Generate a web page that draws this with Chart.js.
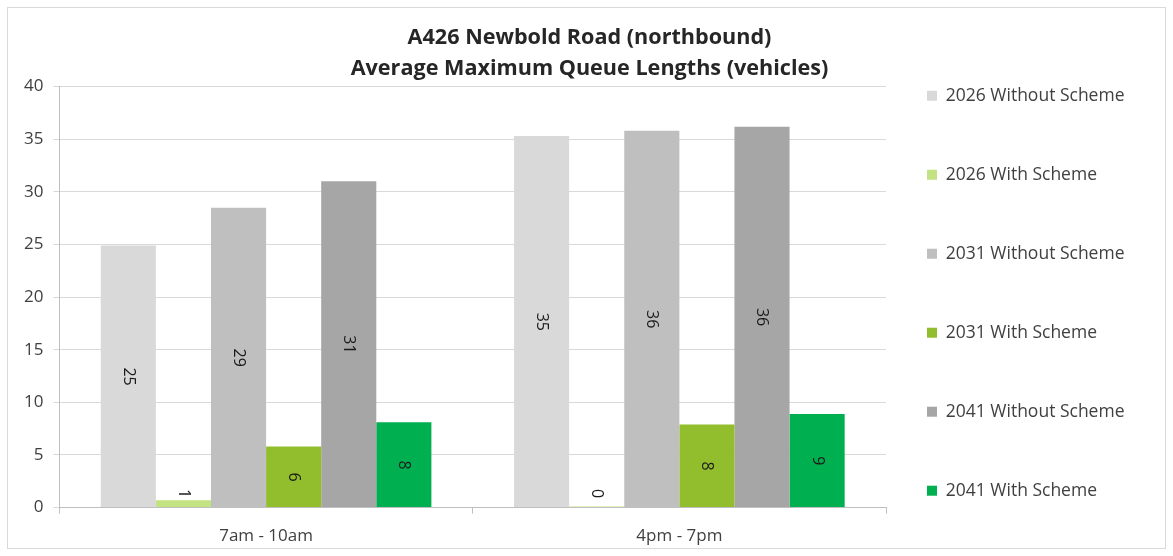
<!DOCTYPE html>
<html>
<head>
<meta charset="utf-8">
<script src="https://cdn.jsdelivr.net/npm/chart.js@4.4.1/dist/chart.umd.min.js"></script>
<style>
  html, body { margin: 0; padding: 0; background: #fff; }
  #frame { position: absolute; left: 7px; top: 7px; width: 1157px; height: 540px; border: 1px solid #d9d9d9; }
</style>
</head>
<body>
<div id="frame"><canvas id="chartQueue" width="1157" height="540"></canvas></div>
<script>
const periods = ["7am - 10am", "4pm - 7pm"];
const seriesNames = ["2026 Without Scheme", "2026 With Scheme", "2031 Without Scheme", "2031 With Scheme", "2041 Without Scheme", "2041 With Scheme"];
const seriesColors = ["#d9d9d9", "#c3e281", "#bfbfbf", "#92bd2d", "#a6a6a6", "#00b050"];
const without2026 = [24.9, 35.3];
const with2026 = [0.7, 0.1];
const without2031 = [28.5, 35.8];
const with2031 = [5.8, 7.9];
const without2041 = [31.0, 36.2];
const with2041 = [8.1, 8.9];
const yTicks = [0, 5, 10, 15, 20, 25, 30, 35, 40];

const allValues = [without2026, with2026, without2031, with2031, without2041, with2041];
const FONT = '"Open Sans", "Liberation Sans", sans-serif';

// labels turned 90deg, drawn in the middle of each bar
const barLabels = {
    id: 'barLabels',
    afterDatasetsDraw(chart) {
        const ctx = chart.ctx;
        const base = chart.scales.y.getPixelForValue(0);
        ctx.save();
        ctx.font = '16px ' + FONT;
        ctx.fillStyle = '#1a1a1a';
        ctx.textAlign = 'center';
        ctx.textBaseline = 'middle';
        chart.data.datasets.forEach((ds, i) => {
            chart.getDatasetMeta(i).data.forEach((bar, j) => {
                let y = Math.min((bar.y + base) / 2, base - 14);
                ctx.save();
                ctx.translate(bar.x, y);
                ctx.rotate(Math.PI / 2);
                ctx.fillText(Math.round(ds.data[j]), 0, 0);
                ctx.restore();
            });
        });
        ctx.restore();
    }
};

new Chart("chartQueue", {
    type: "bar",
    data: {
        labels: periods,
        datasets: seriesNames.map((name, i) => ({
            label: name,
            data: allValues[i],
            backgroundColor: seriesColors[i],
            categoryPercentage: 0.8,
            barPercentage: 1.0
        }))
    },
    options: {
        responsive: false,
        animation: false,
        layout: { padding: { left: 6, right: 0, top: 0, bottom: -10 } },
        plugins: {
            title: {
                display: true,
                text: ["A426 Newbold Road (northbound)", "Average Maximum Queue Lengths (vehicles)"],
                color: '#262626',
                font: { family: FONT, size: 21.6, weight: 'bold', lineHeight: 1.45 },
                padding: { top: 14, bottom: 2 }
            },
            legend: {
                position: 'right',
                align: 'start',
                maxWidth: 279,
                onClick: null,
                title: { display: true, text: ' ', font: { size: 10, lineHeight: 1 }, padding: { top: 28, bottom: 0 } },
                labels: {
                    boxWidth: 10,
                    boxHeight: 10,
                    padding: 41,
                    color: '#404040',
                    font: { family: FONT, size: 17.5, lineHeight: 2.171 },
                    // one-line arrays so each row takes the font's line height
                    generateLabels: chart => Chart.defaults.plugins.legend.labels.generateLabels(chart)
                        .map(item => Object.assign(item, { text: [item.text] }))
                }
            },
            tooltip: { enabled: false }
        },
        scales: {
            x: {
                grid: { drawOnChartArea: false, drawTicks: true, tickLength: 6, color: '#bfbfbf' },
                border: { color: '#bfbfbf' },
                ticks: { color: '#404040', padding: 12, font: { family: FONT, size: 17 } }
            },
            y: {
                min: 0,
                max: 40,
                afterBuildTicks: axis => { axis.ticks = yTicks.map(v => ({ value: v })); },
                grid: { color: '#d9d9d9', tickLength: 6 },
                border: { color: '#bfbfbf' },
                ticks: { color: '#404040', padding: 10, font: { family: FONT, size: 17 } }
            }
        }
    },
    plugins: [barLabels]
});
</script>
</body>
</html>
